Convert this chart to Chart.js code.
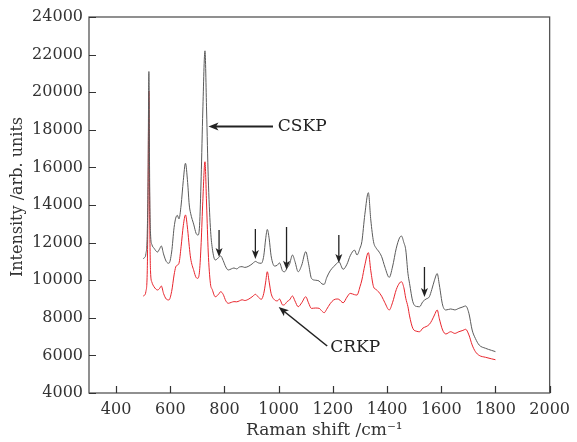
<!DOCTYPE html>
<html>
<head>
<meta charset="utf-8">
<script src="https://cdn.jsdelivr.net/npm/chart.js@4.4.1/dist/chart.umd.min.js"></script>
<style>
  html, body { margin: 0; padding: 0; background: #fff; }
  #chart { display: block; }
</style>
</head>
<body>
<canvas id="chart" width="577" height="442"></canvas>
<script>
// Raman shift (cm-1)
const wavenumbers = [
  500, 505, 510, 515, 518, 521, 524, 527, 532, 540, 553, 560, 567, 575, 585, 595,
  605, 614, 620, 626, 632, 640, 648, 656, 664, 670, 675, 687, 695, 702, 708, 714,
  720, 728, 734, 740, 748, 755, 766, 778, 786, 795, 805, 814, 825, 835, 845, 855,
  865, 875, 890, 905, 914, 925, 936, 945, 952, 958, 965, 972, 985, 995, 1003, 1015,
  1022, 1031, 1040, 1051, 1060, 1072, 1085, 1100, 1110, 1121, 1135, 1149, 1160, 1168, 1177, 1190,
  1203, 1215, 1222, 1238, 1252, 1264, 1280, 1289, 1300, 1307, 1318, 1331, 1340, 1350, 1360, 1368,
  1380, 1392, 1408, 1420, 1434, 1446, 1453, 1462, 1469, 1477, 1483, 1495, 1510, 1520, 1532, 1544,
  1556, 1565, 1575, 1585, 1593, 1605, 1617, 1635, 1650, 1665, 1680, 1690, 1702, 1714, 1726, 1740,
  1763, 1785, 1800
];

const cskp = [
  11150, 11200, 11400, 12500, 15500, 21100, 15000, 12500, 11900, 11700, 11500, 11650, 11820, 11400, 11000, 10900,
  11500, 12800, 13300, 13450, 13260, 14000, 15300, 16220, 15200, 14000, 13560, 12940, 12500, 12400, 12900, 15500,
  19000, 22200, 19000, 15500, 12800, 11700, 11075, 11200, 11290, 11050, 10700, 10543, 10600, 10650, 10600, 10700,
  10720, 10680, 10750, 10900, 11000, 10920, 10900, 11300, 12200, 12700, 12200, 11300, 10750, 10800, 10920, 10480,
  10450, 10650, 10850, 11340, 11000, 10450, 10800, 11520, 10900, 10100, 10000, 9960, 9800, 9780, 10130, 10500,
  10720, 10900, 10985, 10580, 10850, 11300, 11600, 11340, 11700, 12050, 13500, 14655, 13200, 12050, 11700, 11555,
  11250, 10700, 10150, 10700, 11700, 12250, 12350, 12000, 11610, 10370, 9830, 8860, 8600, 8590, 8860, 9000,
  9120, 9500, 10000, 10350, 9745, 8680, 8415, 8470, 8420, 8505, 8580, 8630, 8240, 7350, 6900, 6550,
  6380, 6270, 6200
];

const crkp = [
  9160, 9200, 9400, 10500, 14500, 20060, 13500, 10500, 9900, 9650, 9480, 9550, 9690, 9300, 9000, 8950,
  9400, 10280, 10700, 10800, 10900, 11800, 12900, 13470, 12700, 11800, 11170, 10500, 10150, 10100, 10500, 12000,
  14200, 16300, 14000, 11500, 9830, 9500, 9120, 9250, 9390, 9250, 8900, 8770, 8820, 8860, 8850, 8900,
  8960, 8920, 9000, 9150, 9250, 9100, 8985, 9300, 9900, 10450, 9900, 9300, 8950, 8900, 9000, 8680,
  8700, 8860, 8950, 9160, 8900, 8590, 8800, 9120, 8800, 8500, 8520, 8505, 8350, 8270, 8450, 8750,
  8950, 9000, 8985, 8800, 9100, 9300, 9230, 9210, 9650, 10010, 10800, 11465, 10500, 9655, 9500, 9390,
  9150, 8800, 8415, 8800, 9500, 9850, 9920, 9600, 9040, 8590, 8100, 7440, 7280, 7260, 7450, 7530,
  7650, 7850, 8150, 8415, 7950, 7350, 7140, 7260, 7170, 7260, 7330, 7390, 7090, 6555, 6200, 6000,
  5900, 5820, 5770
];

const xTicks = [400, 600, 800, 1000, 1200, 1400, 1600, 1800, 2000];

// down arrows marking bands: [shift, top, tip]
const markArrows = [
  [780, 12670, 11234],
  [914, 12724, 11128],
  [1029, 12830, 10550],
  [1222, 12404, 10915],
  [1538, 10702, 9107]
];

function toPoints(ys) {
  return wavenumbers.map((x, i) => ({ x: x, y: ys[i] }));
}

function arrowHead(ctx, x1, y1, x2, y2, len, half) {
  const a = Math.atan2(y2 - y1, x2 - x1);
  ctx.beginPath();
  ctx.moveTo(x2, y2);
  ctx.lineTo(x2 - len * Math.cos(a) + half * Math.sin(a), y2 - len * Math.sin(a) - half * Math.cos(a));
  ctx.lineTo(x2 - len * Math.cos(a) * 0.75, y2 - len * Math.sin(a) * 0.75);
  ctx.lineTo(x2 - len * Math.cos(a) - half * Math.sin(a), y2 - len * Math.sin(a) + half * Math.cos(a));
  ctx.closePath();
  ctx.fill();
}

function drawArrow(ctx, x1, y1, x2, y2, width, len, half) {
  const a = Math.atan2(y2 - y1, x2 - x1);
  ctx.lineWidth = width;
  ctx.beginPath();
  ctx.moveTo(x1, y1);
  ctx.lineTo(x2 - len * 0.6 * Math.cos(a), y2 - len * 0.6 * Math.sin(a));
  ctx.stroke();
  arrowHead(ctx, x1, y1, x2, y2, len, half);
}

const framePlugin = {
  id: "frame",
  afterDraw(chart) {
    const { ctx, chartArea, scales } = chart;
    const xs = scales.x, ys = scales.y;
    ctx.save();
    ctx.strokeStyle = "#555";
    ctx.lineWidth = 1.3;
    ctx.strokeRect(chartArea.left, chartArea.top, chartArea.right - chartArea.left, chartArea.bottom - chartArea.top);

    // inward ticks
    ctx.strokeStyle = "#333";
    ctx.lineWidth = 1.2;
    ctx.beginPath();
    xs.ticks.forEach((t) => {
      const px = Math.round(xs.getPixelForValue(t.value)) + 0.5;
      ctx.moveTo(px, chartArea.bottom);
      ctx.lineTo(px, chartArea.bottom - 7);
    });
    ys.ticks.forEach((t) => {
      const py = Math.round(ys.getPixelForValue(t.value)) + 0.5;
      ctx.moveTo(chartArea.left, py);
      ctx.lineTo(chartArea.left + 7, py);
    });
    ctx.stroke();

    // axis titles
    ctx.fillStyle = "#333";
    ctx.textAlign = "center";
    ctx.textBaseline = "middle";
    ctx.font = "17px 'DejaVu Serif', serif";
    ctx.fillText("Raman shift /cm⁻¹", (chartArea.left + chartArea.right) / 2 + 5, 431);
    ctx.save();
    ctx.translate(18, (chartArea.top + chartArea.bottom) / 2 - 8);
    ctx.rotate(-Math.PI / 2);
    ctx.font = "16px 'DejaVu Serif', serif";
    ctx.fillText("Intensity /arb. units", 0, 0);
    ctx.restore();

    // annotations
    ctx.strokeStyle = "#222";
    ctx.fillStyle = "#222";
    drawArrow(ctx, xs.getPixelForValue(979), ys.getPixelForValue(18180),
      xs.getPixelForValue(741), ys.getPixelForValue(18180), 2, 10, 4);
    drawArrow(ctx, xs.getPixelForValue(1179), ys.getPixelForValue(6500),
      xs.getPixelForValue(1000), ys.getPixelForValue(8575), 1.6, 10, 4);
    markArrows.forEach(([x, top, tip]) => {
      const px = xs.getPixelForValue(x);
      drawArrow(ctx, px, ys.getPixelForValue(top), px, ys.getPixelForValue(tip), 1.3, 9, 3.5);
    });

    ctx.font = "17px 'DejaVu Serif', serif";
    ctx.textBaseline = "middle";
    ctx.textAlign = "left";
    ctx.fillText("CSKP", xs.getPixelForValue(997), ys.getPixelForValue(18180));
    ctx.fillText("CRKP", xs.getPixelForValue(1190), ys.getPixelForValue(6394));
    ctx.restore();
  }
};

Chart.defaults.font.family = "'DejaVu Serif', serif";
Chart.defaults.color = "#333";

new Chart(document.getElementById("chart").getContext("2d"), {
  type: "line",
  data: {
    datasets: [
      {
        label: "CSKP",
        data: toPoints(cskp),
        borderColor: "#5a5a5a",
        borderWidth: 1,
        pointRadius: 0,
        cubicInterpolationMode: "monotone",
        fill: false
      },
      {
        label: "CRKP",
        data: toPoints(crkp),
        borderColor: "#e8242c",
        borderWidth: 1,
        pointRadius: 0,
        cubicInterpolationMode: "monotone",
        fill: false
      }
    ]
  },
  options: {
    responsive: false,
    animation: false,
    devicePixelRatio: 1,
    layout: { padding: { left: 0, top: 17, right: 22, bottom: 0 } },
    plugins: {
      legend: { display: false },
      tooltip: { enabled: false }
    },
    scales: {
      x: {
        type: "linear",
        min: 300,
        max: 2000,
        afterBuildTicks: (scale) => {
          scale.ticks = xTicks.map((v) => ({ value: v }));
        },
        afterFit: (scale) => { scale.height = 49; },
        grid: { display: false, drawTicks: false },
        border: { display: false },
        ticks: {
          padding: 7,
          maxRotation: 0,
          font: { size: 16 },
          color: "#333",
          callback: (v) => String(v)
        }
      },
      y: {
        min: 4000,
        max: 24000,
        afterFit: (scale) => { scale.width = 89; },
        grid: { display: false, drawTicks: false },
        border: { display: false },
        ticks: {
          stepSize: 2000,
          padding: 6,
          font: { size: 16 },
          color: "#333",
          callback: (v) => String(v)
        }
      }
    }
  },
  plugins: [framePlugin]
});
</script>
</body>
</html>
